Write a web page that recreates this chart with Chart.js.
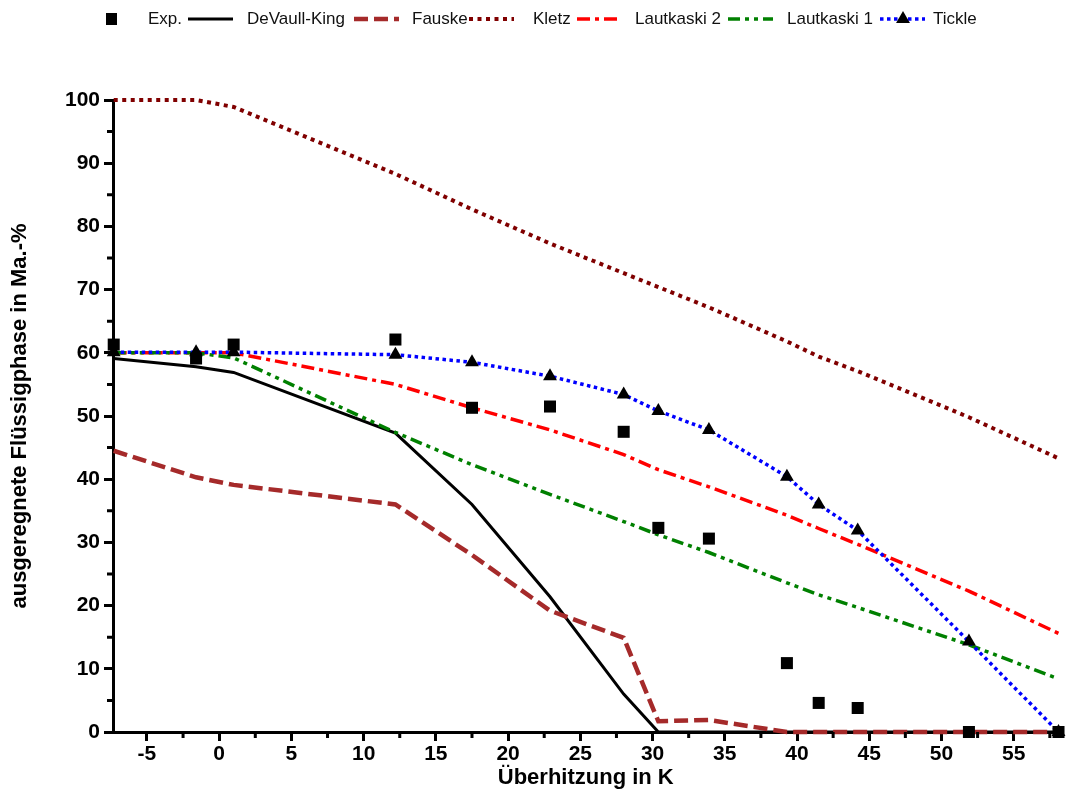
<!DOCTYPE html>
<html>
<head>
<meta charset="utf-8">
<script src="https://cdn.jsdelivr.net/npm/chart.js@4/dist/chart.umd.min.js"></script>
<style>
html, body { margin: 0; padding: 0; background: #fff; }
</style>
</head>
<body>
<canvas id="grafico" width="1067" height="799"></canvas>
<script>
// Überhitzung in K (gemeinsame x-Werte aller Reihen)
const ueberhitzung = [-7.3, -1.6, 1.0, 12.2, 17.5, 22.9, 28.0, 30.4, 33.9, 39.3, 41.5, 44.2, 51.9, 58.1];

// ausgeregnete Flüssigphase in Ma.-%
const exp         = [61.3, 59.1, 61.3, 62.1, 51.3, 51.5, 47.5, 32.3, 30.6, 10.9, 4.6, 3.8, 0, 0];
const devaullKing = [59.1, 57.8, 56.9, 47.3, 36.0, 21.4, 6.0, 0, 0, 0, 0, 0, 0, 0];
const fauske      = [44.5, 40.3, 39.1, 36.0, 28.0, 19.2, 14.9, 1.7, 1.9, 0, 0, 0, 0, 0];
const kletz       = [100, 100, 98.9, 88.3, 82.7, 77.3, 72.6, 70.4, 67.2, 61.8, 59.4, 57.1, 49.8, 43.3];
const lautkaski2  = [60, 60, 60, 55.0, 51.3, 47.8, 43.9, 41.5, 38.8, 34.3, 32.2, 29.7, 22.3, 15.6];
const lautkaski1  = [60, 60, 59.2, 47.4, 42.3, 37.6, 33.3, 31.2, 28.4, 23.6, 21.7, 19.7, 13.8, 8.4];
const tickle      = [60.1, 60.1, 60.1, 59.7, 58.5, 56.3, 53.4, 50.8, 47.8, 40.4, 36.0, 31.9, 14.3, 0];

const xTicks = [-5, 0, 5, 10, 15, 20, 25, 30, 35, 40, 45, 50, 55];
const yTicks = [0, 10, 20, 30, 40, 50, 60, 70, 80, 90, 100];

const pontos = (ys) => ueberhitzung.map((x, i) => ({x: x, y: ys[i]}));

const linha = (label, ys, cor, largura, tracejado, ordem) => ({
  label: label,
  data: pontos(ys),
  borderColor: cor,
  borderWidth: largura,
  borderDash: tracejado,
  pointRadius: 0,
  fill: false,
  tension: 0,
  clip: false,
  order: ordem
});

const datasets = [
  {
    label: 'Exp.',
    data: pontos(exp),
    showLine: false,
    pointStyle: 'rect',
    pointRadius: 8.5,
    pointBackgroundColor: '#000',
    pointBorderColor: '#000',
    pointBorderWidth: 0,
    clip: false,
    order: 0
  },
  linha('DeVaull-King', devaullKing, '#000000', 3, [], 6),
  linha('Fauske', fauske, '#a52a2a', 4.5, [14, 6], 5),
  linha('Kletz', kletz, '#800000', 4, [4, 4.5], 4),
  linha('Lautkaski 2', lautkaski2, '#ff0000', 3.5, [13, 5, 4, 5], 3),
  linha('Lautkaski 1', lautkaski1, '#008000', 3.5, [12, 5, 4, 5, 4, 5], 2),
  Object.assign(linha('Tickle', tickle, '#0000ff', 3.5, [3.5, 3.5], 1), {
    pointStyle: 'triangle',
    pointRadius: 8,
    pointBackgroundColor: '#000',
    pointBorderColor: '#000',
    pointBorderWidth: 0
  })
];

// Legende oben, eine Zeile
const legendaSimbolo = [106, 188, 354, 469, 577, 728, 880];
const legendaTexto = [148, 247, 412, 533, 635, 787, 933];

const legenda = {
  id: 'legenda',
  afterDraw(chart) {
    const c = chart.ctx;
    const y = 19;
    c.save();
    c.font = '17px "Liberation Sans", Arial, sans-serif';
    c.textBaseline = 'middle';
    chart.data.datasets.forEach((ds, i) => {
      const sx = legendaSimbolo[i];
      if (ds.showLine === false) {
        c.fillStyle = '#000';
        c.fillRect(sx, y - 6, 11, 12);
      } else {
        c.beginPath();
        c.setLineDash(ds.borderDash || []);
        c.lineWidth = ds.borderWidth;
        c.strokeStyle = ds.borderColor;
        c.moveTo(sx, y);
        c.lineTo(sx + 45, y);
        c.stroke();
        c.setLineDash([]);
        if (ds.pointStyle === 'triangle') {
          const cx = sx + 23, r = 8;
          c.fillStyle = '#000';
          c.beginPath();
          c.moveTo(cx, y - r);
          c.lineTo(cx + r * 0.866, y + r / 2);
          c.lineTo(cx - r * 0.866, y + r / 2);
          c.closePath();
          c.fill();
        }
      }
      c.fillStyle = '#111';
      c.fillText(ds.label, legendaTexto[i], y);
    });
    c.restore();
  }
};

// kleine Zwischenstriche an beiden Achsen
const zwischenstriche = {
  id: 'zwischenstriche',
  afterDraw(chart) {
    const c = chart.ctx;
    const sx = chart.scales.x, sy = chart.scales.y;
    const a = chart.chartArea;
    c.save();
    c.strokeStyle = '#000';
    c.lineWidth = 3;
    c.beginPath();
    for (let v = -7.5; v <= sx.max; v += 5) {
      if (v < sx.min) continue;
      const px = sx.getPixelForValue(v);
      c.moveTo(px, a.bottom);
      c.lineTo(px, a.bottom + 6);
    }
    for (let v = 5; v < 100; v += 10) {
      const py = sy.getPixelForValue(v);
      c.moveTo(a.left, py);
      c.lineTo(a.left - 6, py);
    }
    c.stroke();
    c.restore();
  }
};

const fonteEixo = {family: '"Liberation Sans", Arial, sans-serif', size: 21, weight: 'bold'};
const fonteTitulo = {family: '"Liberation Sans", Arial, sans-serif', size: 22, weight: 'bold'};

const ctx = document.getElementById('grafico');

let grafico = new Chart(ctx, {
  type: 'line',
  data: { datasets: datasets },
  options: {
    responsive: false,
    animation: false,
    events: [],
    layout: { padding: { top: 100, right: 0, left: 0, bottom: 0 } },
    plugins: {
      legend: { display: false },
      tooltip: { enabled: false }
    },
    scales: {
      x: {
        type: 'linear',
        min: -7.35,
        max: 58.1,
        afterBuildTicks: (s) => { s.ticks = xTicks.map(v => ({value: v})); },
        afterFit: (s) => { s.height = 67; },
        border: { display: true, color: '#000', width: 3 },
        grid: { drawOnChartArea: false, drawTicks: true, tickLength: 9, tickColor: '#000', tickWidth: 3 },
        ticks: { color: '#000', font: fonteEixo, padding: 1, maxRotation: 0 },
        title: { display: true, text: 'Überhitzung in K', color: '#000', font: fonteTitulo, padding: { top: 0, bottom: 8 } }
      },
      y: {
        type: 'linear',
        min: 0,
        max: 100,
        afterBuildTicks: (s) => { s.ticks = yTicks.map(v => ({value: v})); },
        afterFit: (s) => { s.width = 113; },
        border: { display: true, color: '#000', width: 3 },
        grid: { drawOnChartArea: false, drawTicks: true, tickLength: 9, tickColor: '#000', tickWidth: 3 },
        ticks: { color: '#000', font: fonteEixo, padding: 4 },
        title: { display: true, text: 'ausgeregnete Flüssigphase in Ma.-%', color: '#000', font: fonteTitulo, padding: { top: 7, bottom: 0 } }
      }
    }
  },
  plugins: [legenda, zwischenstriche]
});
</script>
</body>
</html>
